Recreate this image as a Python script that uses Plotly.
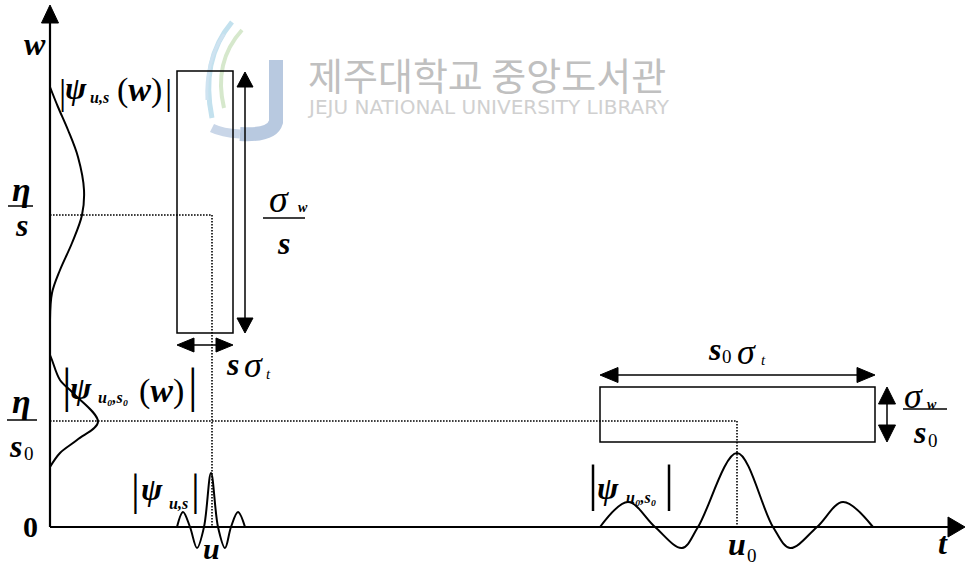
import plotly.graph_objects as go

# ---------------- data (t / w coordinates, origin at the axes corner) ----------------
T_END = 915            # end of t axis
W_END = 522            # end of w axis
U = 162                # u
U0 = 687               # u0
ETA_S = 312            # eta / s
ETA_S0 = 106           # eta / s0

BOX1_T = [127, 183]    # Heisenberg box of psi_{u,s}
BOX1_W = [194, 456]
BOX2_T = [550, 825]    # Heisenberg box of psi_{u0,s0}
BOX2_W = [85, 140]

SW_S_ARROW_T = 195     # sigma_w / s  double arrow
SW_S_ARROW_W = [194, 455]
ST_ARROW_W = 182       # s sigma_t double arrow
ST_ARROW_T = [127, 183]
S0T_ARROW_W = 152      # s0 sigma_t double arrow
S0T_ARROW_T = [550, 825]
SW_S0_ARROW_T = 837    # sigma_w / s0 double arrow
SW_S0_ARROW_W = [85, 140]

# small-scale wavelet |psi_{u,s}| (time domain)
small_t = [127, 133, 140, 147, 154, 161, 168, 175, 181, 188, 195]
small_amp = [0, 15, 0, -21, 0, 54, 0, -21, 0, 15, 0]
# large-scale wavelet |psi_{u0,s0}|
big_t = [550, 578, 605, 632, 648, 687, 723, 740, 767, 793, 823]
big_amp = [0, 25, 0, -21, 0, 74, 0, -21, 0, 25, 0]
# frequency-domain envelopes
g1_amp = [0, 8, 18, 28, 34, 32, 22, 10, 2, 0]
g1_w = [440, 420, 397, 370, 337, 312, 284, 257, 234, 207]
g2_amp = [0, 2, 10, 23, 48, 27, 10, 0]
g2_w = [172, 167, 147, 134, 105, 87, 74, 60]

# ---------------- layout helpers ----------------
W_PX, H_PX = 967, 566
X0, Y0 = 50, 527       # pixel position of the origin
SERIF = "Liberation Serif"
BLACK = "#000000"
DOT = "1.6px,1.4px"


def d(px, py):
    return px - X0, Y0 - py


fig = go.Figure()

for xs, ys in [(small_t, small_amp), (big_t, big_amp), (g1_amp, g1_w), (g2_amp, g2_w)]:
    fig.add_trace(go.Scatter(x=xs, y=ys, mode="lines",
                             line=dict(color=BLACK, width=2, shape="spline"),
                             hoverinfo="skip"))

shapes = []


def line(x0, y0, x1, y1, width=1.5, dash="solid", color=BLACK):
    shapes.append(dict(type="line", xref="x", yref="y", x0=x0, y0=y0, x1=x1, y1=y1,
                       line=dict(color=color, width=width, dash=dash), layer="above"))


def head(tx, ty, dx, dy, length, width):
    bx, by = tx - dx * length, ty - dy * length
    px_, py_ = -dy, dx
    p1 = (bx + px_ * width / 2, by + py_ * width / 2)
    p2 = (bx - px_ * width / 2, by - py_ * width / 2)
    shapes.append(dict(type="path", xref="x", yref="y",
                       path=f"M {tx},{ty} L {p1[0]},{p1[1]} L {p2[0]},{p2[1]} Z",
                       fillcolor=BLACK, line=dict(color=BLACK, width=1), layer="above"))


# watermark logo (faint)
def wpath(pts, color, width):
    pp = [d(*p) for p in pts]
    s = f"M {pp[0][0]},{pp[0][1]}"
    for i in range(1, len(pp) - 1, 2):
        s += f" Q {pp[i][0]},{pp[i][1]} {pp[i+1][0]},{pp[i+1][1]}"
    shapes.append(dict(type="path", xref="x", yref="y", path=s,
                       line=dict(color=color, width=width), layer="below"))


wpath([(276, 60), (276, 100), (276, 122), (272, 136), (240, 134)], "#b8c9e0", 14)
wpath([(240, 134), (222, 133), (212, 128)], "#c9d6e8", 9)
wpath([(232, 22), (200, 60), (212, 118)], "#c3e1ee", 5)
wpath([(242, 30), (213, 62), (224, 108)], "#d6e8cc", 4)
wpath([(224, 34), (205, 62), (207, 100)], "#cfe3f1", 3)

# axes
line(0, 0, 0, W_END - 15, width=2.2)
head(0, W_END, 0, 1, 18, 17)
line(0, 0, T_END - 15, 0, width=2)
head(T_END, 0, 1, 0, 17, 20)

# dotted guide lines
line(0, ETA_S, U, ETA_S, dash=DOT, width=1.6)
line(U, ETA_S, U, 0, dash=DOT, width=1.6)
line(0, ETA_S0, U0, ETA_S0, dash=DOT, width=1.6)
line(U0, ETA_S0, U0, 0, dash=DOT, width=1.6)

# boxes
for bt, bw in [(BOX1_T, BOX1_W), (BOX2_T, BOX2_W)]:
    shapes.append(dict(type="rect", xref="x", yref="y", x0=bt[0], x1=bt[1],
                       y0=bw[0], y1=bw[1], line=dict(color=BLACK, width=1.5), layer="above"))

# double arrows
line(SW_S_ARROW_T, SW_S_ARROW_W[0] + 14, SW_S_ARROW_T, SW_S_ARROW_W[1] - 14, width=1.5)
head(SW_S_ARROW_T, SW_S_ARROW_W[1], 0, 1, 15, 16)
head(SW_S_ARROW_T, SW_S_ARROW_W[0], 0, -1, 15, 16)

line(ST_ARROW_T[0] + 14, ST_ARROW_W, ST_ARROW_T[1] - 14, ST_ARROW_W, width=1.5)
head(ST_ARROW_T[0], ST_ARROW_W, -1, 0, 17, 14)
head(ST_ARROW_T[1], ST_ARROW_W, 1, 0, 17, 14)

line(S0T_ARROW_T[0] + 14, S0T_ARROW_W, S0T_ARROW_T[1] - 14, S0T_ARROW_W, width=1.5)
head(S0T_ARROW_T[0], S0T_ARROW_W, -1, 0, 18, 15)
head(S0T_ARROW_T[1], S0T_ARROW_W, 1, 0, 18, 15)

line(SW_S0_ARROW_T, SW_S0_ARROW_W[0] + 14, SW_S0_ARROW_T, SW_S0_ARROW_W[1] - 14, width=1.5)
head(SW_S0_ARROW_T, SW_S0_ARROW_W[1], 0, 1, 17, 17)
head(SW_S0_ARROW_T, SW_S0_ARROW_W[0], 0, -1, 17, 17)

# fraction bars
line(*d(8, 206), *d(33, 206), width=1.5)
line(*d(7, 420), *d(37, 420), width=1.5)
line(*d(263, 218), *d(305, 218), width=1.5)
line(*d(903, 409), *d(947, 409), width=1.5)

annotations = []


def txt(px, py, s, size, family=SERIF, color=BLACK, xanchor="center"):
    x, y = d(px, py)
    annotations.append(dict(x=x, y=y, xref="x", yref="y", text=s, showarrow=False,
                            font=dict(family=family, size=size, color=color),
                            xanchor=xanchor, yanchor="middle"))


def BI(s):
    return f"<b><i>{s}</i></b>"


# watermark text
txt(487, 73, "제주대학교 중앙도서관", 38, family="Noto Sans CJK KR", color="#c0c0c0")
txt(488, 107, "JEJU NATIONAL UNIVERSITY LIBRARY", 20, family="DejaVu Sans", color="#d0d0d0")

# axis labels
txt(35, 44, BI("w"), 32)
txt(943, 543, BI("t"), 32)
txt(30, 526, "<b>0</b>", 30)
txt(211, 548, BI("u"), 30)
txt(737, 544, BI("u"), 32)
txt(752, 555, "0", 19)

# eta / s
txt(21, 189, BI("η"), 34)
txt(21, 225, BI("s"), 32)
# eta / s0
txt(21, 401, BI("η"), 34)
txt(15, 446, BI("s"), 32)
txt(29, 453, "0", 19)

# s sigma_t
txt(232, 364, BI("s"), 32)
txt(253, 365, "<i>σ</i>", 36)
txt(268, 374, "<i>t</i>", 15)
# s0 sigma_t
txt(714, 349, BI("s"), 32)
txt(727, 356, "0", 19)
txt(746, 352, "<i>σ</i>", 36)
txt(763, 360, "<i>t</i>", 15)
# sigma_w / s
txt(279, 199, "<i>σ</i>", 38)
txt(303, 207, BI("w"), 14)
txt(283, 243, BI("s"), 32)
# sigma_w / s0
txt(913, 396, "<i>σ</i>", 36)
txt(932, 404, BI("w"), 14)
txt(919, 432, BI("s"), 32)
txt(933, 440, "0", 19)

# |psi_{u,s}(w)|
txt(62, 92, "|", 36)
txt(76, 88, BI("ψ"), 32)
txt(99, 97, BI("u,s"), 16)
txt(139, 90, "(" + BI("w") + ")", 34)
txt(168, 92, "|", 36)
# |psi_{u0,s0}(w)|
txt(67, 385, "|", 48)
txt(81, 388, BI("ψ"), 32)
txt(113, 397, BI("u₀,s₀"), 16)
txt(161, 391, "(" + BI("w") + ")", 34)
txt(193, 385, "|", 48)
# |psi_{u,s}|
txt(135, 490, "|", 44)
txt(152, 489, BI("ψ"), 32)
txt(178, 503, BI("u,s"), 16)
txt(195, 490, "|", 44)
# |psi_{u0,s0}|
txt(593, 483, "|", 50)
txt(608, 488, BI("ψ"), 32)
txt(641, 497, BI("u₀,s₀"), 16)
txt(669, 483, "|", 50)

fig.update_layout(
    width=W_PX, height=H_PX,
    margin=dict(l=0, r=0, t=0, b=0),
    paper_bgcolor="white", plot_bgcolor="white",
    showlegend=False,
    xaxis=dict(range=[-X0, W_PX - X0], visible=False, fixedrange=True),
    yaxis=dict(range=[Y0 - H_PX, Y0], visible=False, fixedrange=True),
    shapes=shapes, annotations=annotations,
)

fig.write_html("out.html")
